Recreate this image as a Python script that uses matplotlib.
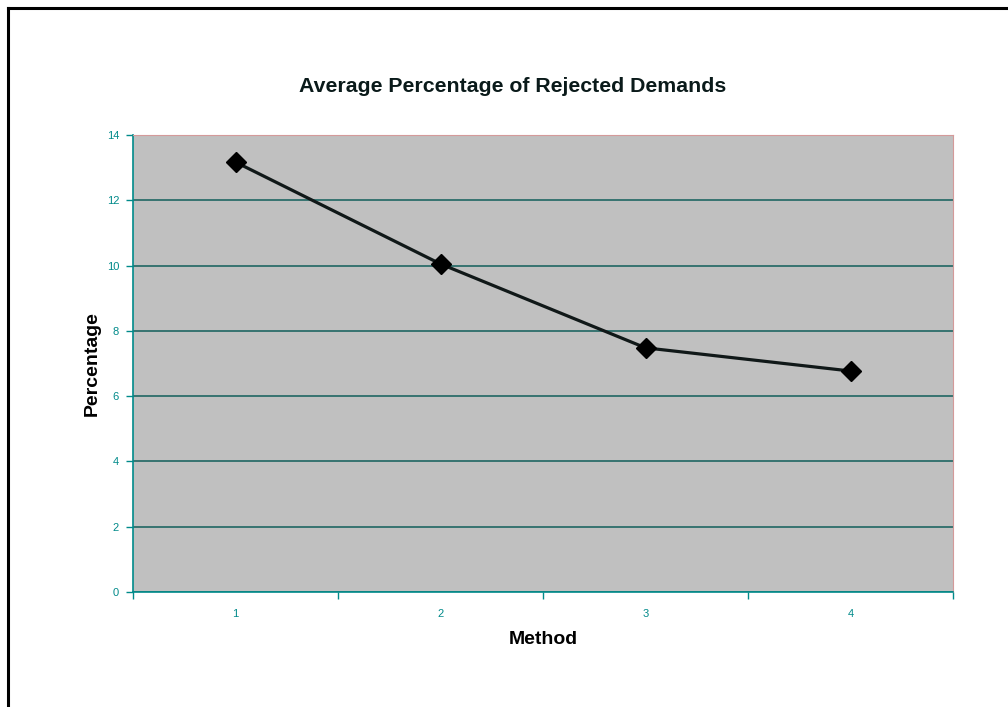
import matplotlib.pyplot as plt
from matplotlib.ticker import FixedLocator, NullFormatter

plt.rcParams['font.family'] = ['Liberation Sans', 'DejaVu Sans']

# data
methods = [1, 2, 3, 4]
method_labels = ['1', '2', '3', '4']
rejected_pct = [13.17, 10.05, 7.48, 6.77]

TEAL = '#008a8a'
GRID = '#2c6e6a'

fig = plt.figure(figsize=(10.08, 7.07), dpi=100)
ax = fig.add_axes([133 / 1008, 1 - 592 / 707, 820 / 1008, 457 / 707])

ax.set_facecolor('#c0c0c0')
ax.plot(methods, rejected_pct, color='#101818', lw=2.3, marker='D',
        markersize=10, markerfacecolor='black', markeredgecolor='black', zorder=3)

ax.set_xlim(0.5, 4.5)
ax.set_ylim(0, 14)
ax.set_yticks(range(0, 15, 2))
ax.yaxis.grid(True, color=GRID, lw=1.3)
ax.set_axisbelow(True)

# category labels centred, tick marks on category boundaries
ax.set_xticks(methods)
ax.set_xticklabels(method_labels)
ax.xaxis.set_minor_locator(FixedLocator([0.5, 1.5, 2.5, 3.5, 4.5]))
ax.xaxis.set_minor_formatter(NullFormatter())
ax.tick_params(axis='x', which='major', length=0, pad=12, labelsize=8, labelcolor=TEAL)
ax.tick_params(axis='x', which='minor', length=5, color=TEAL, width=1)
ax.tick_params(axis='y', length=5, color=TEAL, width=1, pad=5, labelsize=8, labelcolor=TEAL)

for side in ['top', 'right']:
    ax.spines[side].set_color('#d49a9a')
    ax.spines[side].set_linewidth(0.8)
for side in ['left', 'bottom']:
    ax.spines[side].set_color(TEAL)
    ax.spines[side].set_linewidth(1.2)

ax.set_xlabel('Method', fontsize=14, fontweight='bold', labelpad=9)
ax.set_ylabel('Percentage', fontsize=14, fontweight='bold', labelpad=4)
fig.text(513 / 1008, 1 - 86 / 707, 'Average Percentage of Rejected Demands',
         ha='center', va='center', fontsize=15.3, fontweight='bold', color='#0a1a1a')

# outer frame (top and left edges visible in the scan)
fig.add_artist(plt.Line2D([8 / 1008, 1.0], [1 - 8 / 707, 1 - 8 / 707],
                          transform=fig.transFigure, color='black', lw=2.2))
fig.add_artist(plt.Line2D([8 / 1008, 8 / 1008], [0, 1 - 8 / 707],
                          transform=fig.transFigure, color='black', lw=2.2))

fig.savefig('out.png', dpi=100)
